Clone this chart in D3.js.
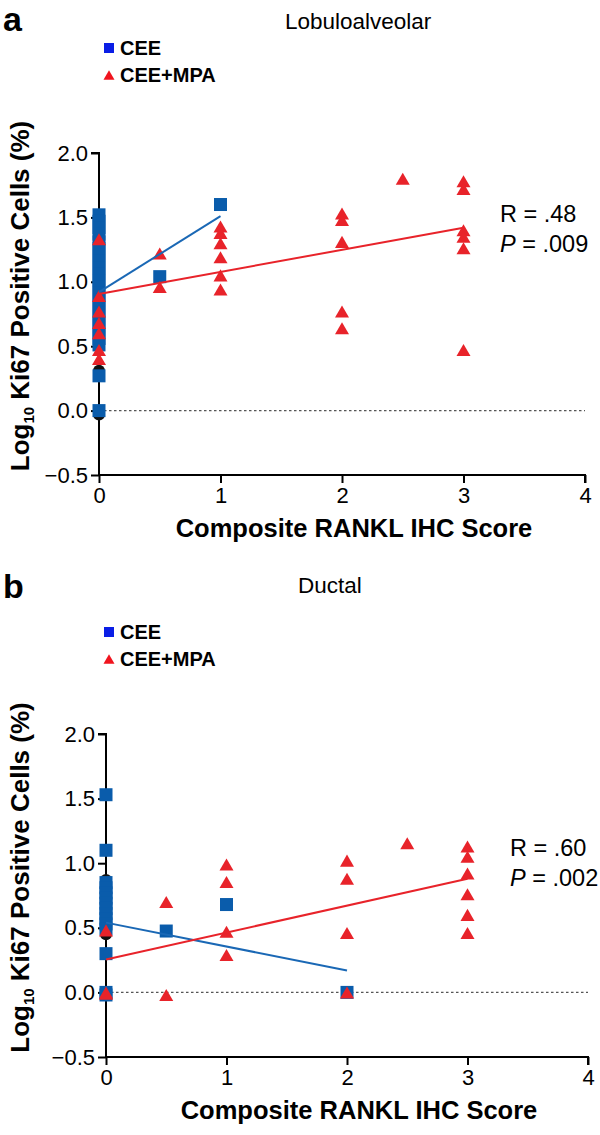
<!DOCTYPE html>
<html>
<head>
<meta charset="utf-8">
<script src="https://cdn.jsdelivr.net/npm/d3@7"></script>
<style>
  body { margin: 0; background: #fff; }
  svg { display: block; font-family: "Liberation Sans", Arial, Helvetica, sans-serif; }
</style>
</head>
<body>
<svg id="chart" width="600" height="1135"></svg>
<script>
// x = composite RANKL IHC score, y = log10 Ki67 positive cells (%)
const xTicks = [0, 1, 2, 3, 4];
const yTicks = [-0.5, 0, 0.5, 1, 1.5, 2];

// panel a: lobuloalveolar
const lobCee = [
  [0, 1.52], [0, 1.47], [0, 1.42], [0, 1.37], [0, 1.31], [0, 1.26], [0, 1.21], [0, 1.16],
  [0, 1.11], [0, 1.06], [0, 1.01], [0, 0.96], [0, 0.91], [0, 0.86], [0, 0.81], [0, 0.76],
  [0, 0.71], [0, 0.66], [0, 0.61], [0, 0.56], [0, 0.51], [0, 0.27], [0, 0.0],
  [0.5, 1.04], [1, 1.6]
];
const lobMpa = [
  [0, 1.33], [0, 0.89], [0, 0.77], [0, 0.68], [0, 0.6], [0, 0.47], [0, 0.4],
  [0.5, 1.22], [0.5, 0.96],
  [1, 1.43], [1, 1.38], [1, 1.3], [1, 1.19], [1, 1.05], [1, 0.94],
  [2, 1.53], [2, 1.48], [2, 1.31], [2, 0.77], [2, 0.64],
  [2.5, 1.8],
  [3, 1.78], [3, 1.72], [3, 1.4], [3, 1.35], [3, 1.26], [3, 0.47]
];
const lobOther = [[0, 1.38], [0, 0.96], [0, 0.31], [0, -0.03]];
const lobCeeFit = [[0, 0.92], [1, 1.51]];
const lobMpaFit = [[0, 0.905], [3, 1.42]];

// panel b: ductal
const ductCee = [
  [0, 1.53], [0, 1.1], [0, 0.85], [0, 0.81], [0, 0.77], [0, 0.73], [0, 0.69], [0, 0.65],
  [0, 0.61], [0, 0.57], [0, 0.53], [0, 0.49], [0, 0.3], [0, 0.0], [0, -0.02],
  [0.5, 0.475], [1, 0.68], [2, 0.0]
];
const ductMpa = [
  [0, 0.48], [0, 0.0], [0, -0.01],
  [0.5, 0.7], [0.5, -0.02],
  [1, 0.99], [1, 0.855], [1, 0.47], [1, 0.29],
  [2, 1.02], [2, 0.88], [2, 0.46], [2, 0.0],
  [2.5, 1.155],
  [3, 1.13], [3, 1.05], [3, 0.92], [3, 0.76], [3, 0.6], [3, 0.46]
];
const ductOther = [[0, 1.1], [0, 0.87], [0, 0.55], [0, 0.45]];
const ductCeeFit = [[0, 0.54], [2, 0.17]];
const ductMpaFit = [[0, 0.255], [3, 0.88]];

const legendLabels = ["CEE", "CEE+MPA"];

const blue = "#0a5cab";
const red = "#e8232a";

const svg = d3.select("#chart");

function triPath(cx, cy, w) {
  const h = w * 0.86;
  return `M${cx},${cy - h / 2}L${cx + w / 2},${cy + h / 2}L${cx - w / 2},${cy + h / 2}Z`;
}

function drawPanel(o) {
  const g = svg.append("g");
  const x = d3.scaleLinear().domain([0, 4]).range([o.x0, o.x1]);
  const y = d3.scaleLinear().domain([-0.5, 2]).range([o.yBottom, o.yTop]);

  // panel letter + title
  g.append("text").attr("x", 3).attr("y", o.letterY)
    .attr("font-size", 34).attr("font-weight", "bold").text(o.letter);
  g.append("text").attr("x", o.titleX).attr("y", o.titleY)
    .attr("font-size", 22.5).text(o.title);

  // legend
  const leg = g.append("g").attr("transform", `translate(104, ${o.legY})`);
  leg.append("rect").attr("x", 0).attr("y", 0).attr("width", 10).attr("height", 10).attr("fill", "#0a1ee6");
  leg.append("path").attr("d", triPath(5, 32, 11)).attr("fill", "#f0141e");
  leg.selectAll("text.lg").data(legendLabels).enter().append("text")
    .attr("x", 16).attr("y", (d, i) => 12 + i * 27)
    .attr("font-size", 20).attr("font-weight", "bold").text(d => d);

  // dotted zero line
  g.append("line")
    .attr("x1", x(0)).attr("x2", x(4)).attr("y1", y(0)).attr("y2", y(0))
    .attr("stroke", "#555").attr("stroke-width", 1.3).attr("stroke-dasharray", "2.5,2.5");

  // axes
  const yAxis = d3.axisLeft(y).tickValues(yTicks).tickFormat(d3.format(".1f")).tickSize(8).tickPadding(3);
  const xAxis = d3.axisBottom(x).tickValues(xTicks).tickFormat(d3.format("d")).tickSize(8).tickPadding(4);
  const ya = g.append("g").attr("transform", `translate(${o.x0},0)`).call(yAxis);
  const xa = g.append("g").attr("transform", `translate(0,${o.yBottom})`).call(xAxis);
  [ya, xa].forEach(a => {
    a.select(".domain").attr("stroke", "#000").attr("stroke-width", 2);
    a.selectAll(".tick line").attr("stroke", "#000").attr("stroke-width", 2);
    a.selectAll(".tick text").attr("font-size", 22).attr("fill", "#000")
      .attr("font-family", "Liberation Sans, Arial, sans-serif");
  });
  ya.select(".domain").attr("d", `M-8,${y(2)}H0V${y(-0.5)}`);
  xa.select(".domain").attr("d", `M${x(0)},0H${x(4)}V8`);

  // axis titles
  g.append("text").attr("x", (o.x0 + o.x1) / 2 + 12).attr("y", o.yBottom + 62)
    .attr("text-anchor", "middle").attr("font-size", 25.5).attr("font-weight", "bold")
    .text("Composite RANKL IHC Score");
  const yt = g.append("text")
    .attr("transform", `translate(29, ${(o.yTop + o.yBottom) / 2 - 18}) rotate(-90)`)
    .attr("text-anchor", "middle").attr("font-size", 26).attr("font-weight", "bold");
  yt.append("tspan").text("Log");
  yt.append("tspan").attr("font-size", 15).attr("dy", 5).text("10");
  yt.append("tspan").attr("dy", -5).text(" Ki67 Positive Cells (%)");

  // hidden third group (black circles)
  g.selectAll("circle.oth").data(o.other).enter().append("circle")
    .attr("cx", d => x(d[0])).attr("cy", d => y(d[1])).attr("r", 6).attr("fill", "#111");

  // CEE squares
  const s = 13;
  g.selectAll("rect.cee").data(o.cee).enter().append("rect")
    .attr("x", d => x(d[0]) - s / 2).attr("y", d => y(d[1]) - s / 2)
    .attr("width", s).attr("height", s).attr("fill", blue);

  // CEE+MPA triangles
  g.selectAll("path.mpa").data(o.mpa).enter().append("path")
    .attr("d", d => triPath(x(d[0]), y(d[1]), 14)).attr("fill", red);

  // regression lines
  const line = d3.line().x(d => x(d[0])).y(d => y(d[1]));
  g.append("path").attr("d", line(o.ceeFit)).attr("stroke", "#1a68b5").attr("stroke-width", 2).attr("fill", "none");
  g.append("path").attr("d", line(o.mpaFit)).attr("stroke", red).attr("stroke-width", 2).attr("fill", "none");

  // statistics
  const st = g.append("g").attr("transform", `translate(${o.statX}, ${o.statY})`).attr("font-size", 23.5);
  st.append("text").attr("x", 0).attr("y", 0).text("R = " + o.r);
  const p = st.append("text").attr("x", 0).attr("y", 30);
  p.append("tspan").attr("font-style", "italic").text("P");
  p.append("tspan").text(" = " + o.p);
}

drawPanel({
  letter: "a", title: "Lobuloalveolar", titleX: 285, letterY: 31, titleY: 29, legY: 43,
  x0: 99, x1: 585, yTop: 153, yBottom: 475,
  cee: lobCee, mpa: lobMpa, other: lobOther, ceeFit: lobCeeFit, mpaFit: lobMpaFit,
  r: ".48", p: ".009", statX: 500, statY: 222
});

drawPanel({
  letter: "b", title: "Ductal", titleX: 298, letterY: 598, titleY: 593, legY: 627,
  x0: 106, x1: 588, yTop: 734, yBottom: 1057,
  cee: ductCee, mpa: ductMpa, other: ductOther, ceeFit: ductCeeFit, mpaFit: ductMpaFit,
  r: ".60", p: ".002", statX: 510, statY: 856
});
</script>
</body>
</html>
